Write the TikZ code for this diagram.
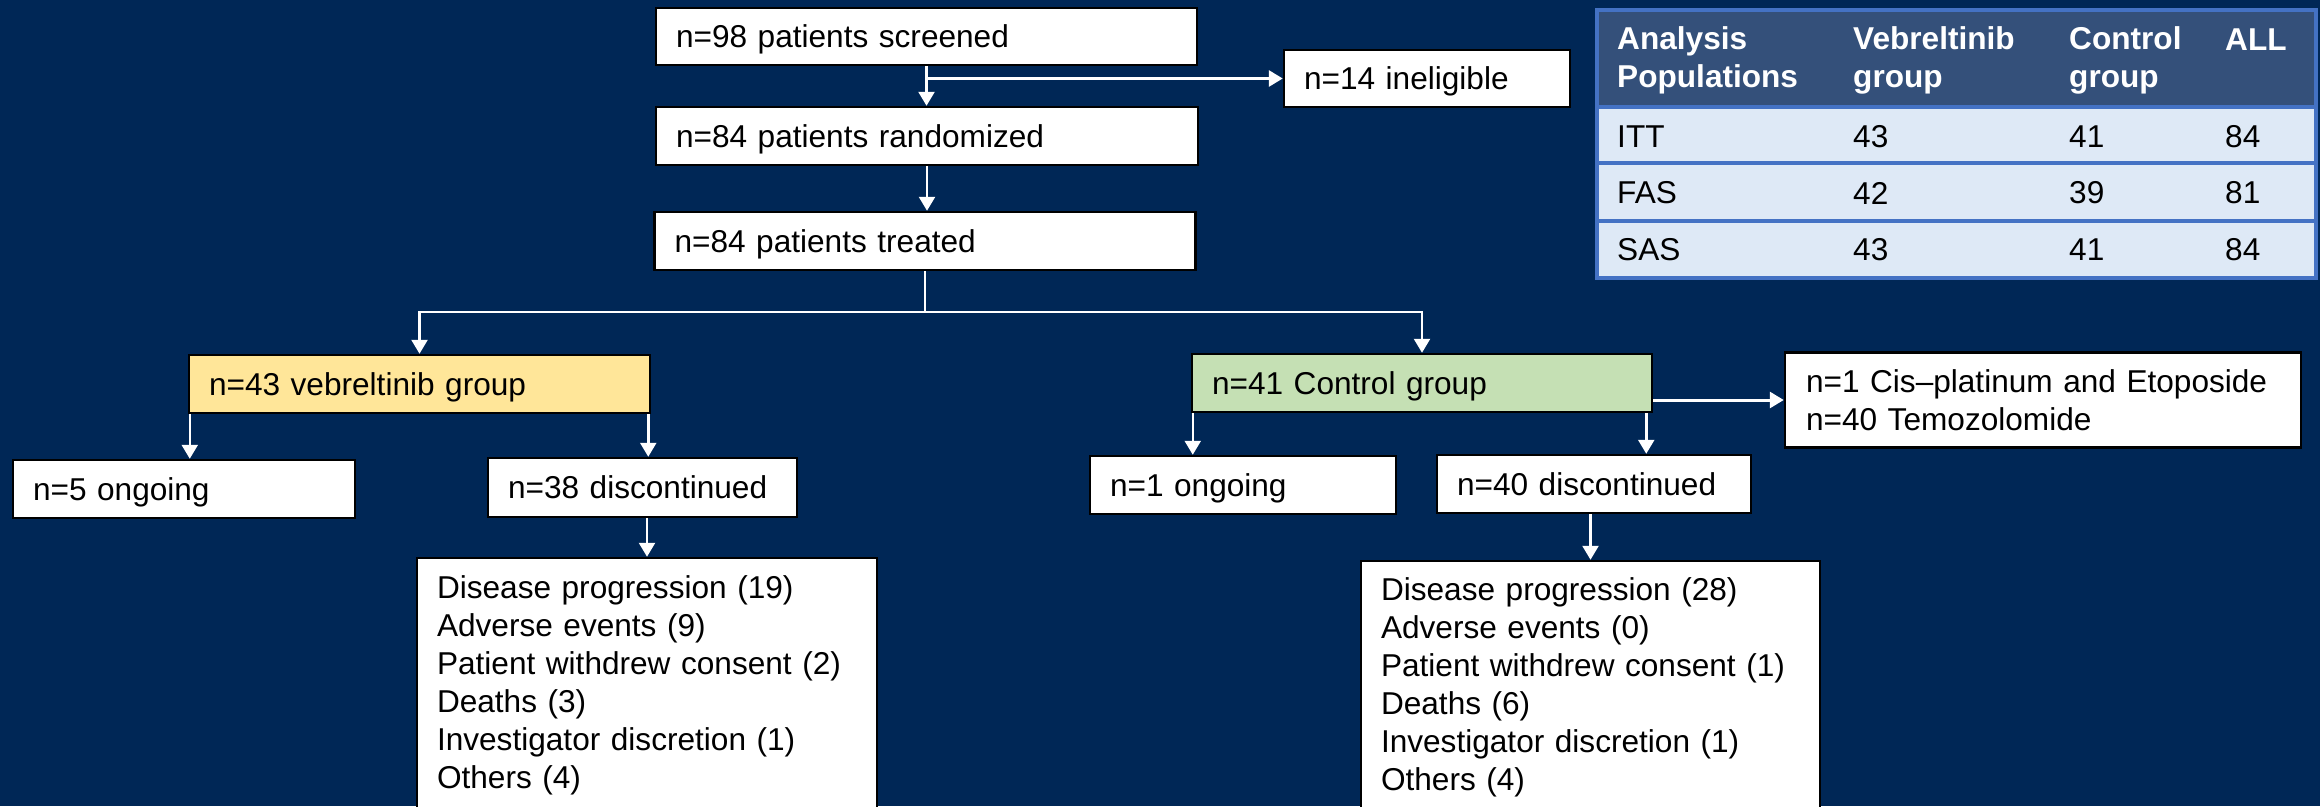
\documentclass[tikz,border=0pt]{standalone}
\usepackage{fontspec}
\setmainfont{Liberation Sans}
\usetikzlibrary{arrows.meta,calc}
\definecolor{navy}{RGB}{0,39,86}
\definecolor{vebfill}{RGB}{255,230,153}
\definecolor{ctlfill}{RGB}{197,224,180}
\definecolor{theadc}{RGB}{52,80,122}
\definecolor{tbodyc}{RGB}{222,233,246}
\definecolor{tlinec}{RGB}{68,114,196}
\newcommand\mainsize{\fontsize{31.6pt}{38pt}\selectfont}
\tikzset{
  box/.style={draw=black, line width=2.5pt, fill=white, inner xsep=20pt, inner ysep=0pt, align=left, font=\mainsize, text=black},
  one/.style={text depth=0pt},
  arr/.style={draw=white, line width=2.5pt, -{Triangle[width=16pt,length=14pt]}},
  th/.style={anchor=west, inner sep=0pt, align=left, text=white, font=\mainsize\bfseries},
  td/.style={anchor=west, inner sep=0pt, text=black, font=\mainsize},
  tl/.style={draw=tlinec, line width=3.5pt}
}
\begin{document}
\begin{tikzpicture}[x=1pt,y=-1pt]
\clip (0,0) rectangle (2320,806);
\fill[navy] (0,0) rectangle (2320,806);

% flow boxes
\node[box, one, minimum width=541pt, minimum height=57pt, text width=501pt] (scr) at (926.5,36.5) {n=98 patients screened};
\node[box, one, minimum width=286pt, minimum height=57pt, text width=246pt] (inel) at (1427,78.5) {n=14 ineligible};
\node[box, one, minimum width=542pt, minimum height=58pt, text width=502pt] (rand) at (927,136) {n=84 patients randomized};
\node[box, one, minimum width=541pt, minimum height=58pt, text width=501pt] (trt) at (925,241) {n=84 patients treated};
\node[box, one, fill=vebfill, minimum width=461pt, minimum height=58pt, text width=421pt] (veb) at (419.5,384) {n=43 vebreltinib group};
\node[box, one, fill=ctlfill, minimum width=460pt, minimum height=58pt, text width=420pt] (ctl) at (1422,383) {n=41 Control group};
\node[box, minimum width=516pt, minimum height=95pt, text width=474pt, inner xsep=21pt] (cis) at (2043,400) {n=1 Cis–platinum and Etoposide\\n=40 Temozolomide};
\node[box, one, minimum width=342pt, minimum height=58pt, text width=302pt] (ong1) at (184,489) {n=5 ongoing};
\node[box, one, minimum width=309pt, minimum height=59pt, text width=269pt] (dis1) at (642.5,487.5) {n=38 discontinued};
\node[box, one, minimum width=306pt, minimum height=58pt, text width=266pt] (ong2) at (1243,485) {n=1 ongoing};
\node[box, one, minimum width=314pt, minimum height=58pt, text width=274pt] (dis2) at (1594,484) {n=40 discontinued};
\node[box, minimum width=460pt, minimum height=254pt, text width=420pt] (rs1) at (647,685) {Disease progression (19)\\Adverse events (9)\\Patient withdrew consent (2)\\Deaths (3)\\Investigator discretion (1)\\Others (4)};
\node[box, minimum width=459pt, minimum height=252pt, text width=419pt] (rs2) at (1590.5,687) {Disease progression (28)\\Adverse events (0)\\Patient withdrew consent (1)\\Deaths (6)\\Investigator discretion (1)\\Others (4)};

% connectors
\coordinate (split) at (925,312);
\draw[arr] (scr.south) -- (scr.south |- rand.north);
\draw[arr, line width=3pt] (scr.south |- inel.west) -- (inel.west);
\draw[arr] (rand.south) -- (rand.south |- trt.north);
\draw[arr] (trt.south) |- (veb.north |- split) -- (veb.north);
\draw[arr] (trt.south) |- (ctl.north |- split) -- (ctl.north);
\draw[arr, line width=3pt] (ctl.east |- cis.west) -- (cis.west);
\draw[arr] ([xshift=2pt]veb.south west) -- ([xshift=2pt]veb.south west |- ong1.north);
\draw[arr] ([xshift=-3pt]veb.south east) -- ([xshift=-3pt]veb.south east |- dis1.north);
\draw[arr] (rs1.north |- dis1.south) -- (rs1.north);
\draw[arr] ([xshift=2pt]ctl.south west) -- ([xshift=2pt]ctl.south west |- ong2.north);
\draw[arr] ([xshift=-7pt]ctl.south east) -- ([xshift=-7pt]ctl.south east |- dis2.north);
\draw[arr] (rs2.north |- dis2.south) -- (rs2.north);

% table
\fill[theadc] (1597,10) rectangle (2316,107);
\fill[tbodyc] (1597,107) rectangle (2316,278);
\draw[tl] (1597,107) -- (2316,107);
\draw[tl] (1597,163) -- (2316,163);
\draw[tl] (1597,221) -- (2316,221);
\draw[tl] (1597,10) rectangle (2316,278);
\node[th] (hA) at (1617,60) {Analysis\\Populations};
\node[th] (hV) at (1853,60) {Vebreltinib\\group};
\node[th] (hC) at (2069,60) {Control\\group};
\node[th] (hL) at (2225,40) {ALL};
\node[td] (r1a) at (1617,137) {ITT};
\node[td] (r1b) at (1853,137) {43};
\node[td] (r1c) at (2069,137) {41};
\node[td] (r1d) at (2225,137) {84};
\node[td] (r2a) at (1617,193) {FAS};
\node[td] (r2b) at (1853,193) {42};
\node[td] (r2c) at (2069,193) {39};
\node[td] (r2d) at (2225,193) {81};
\node[td] (r3a) at (1617,250) {SAS};
\node[td] (r3b) at (1853,250) {43};
\node[td] (r3c) at (2069,250) {41};
\node[td] (r3d) at (2225,250) {84};
\end{tikzpicture}
\end{document}
